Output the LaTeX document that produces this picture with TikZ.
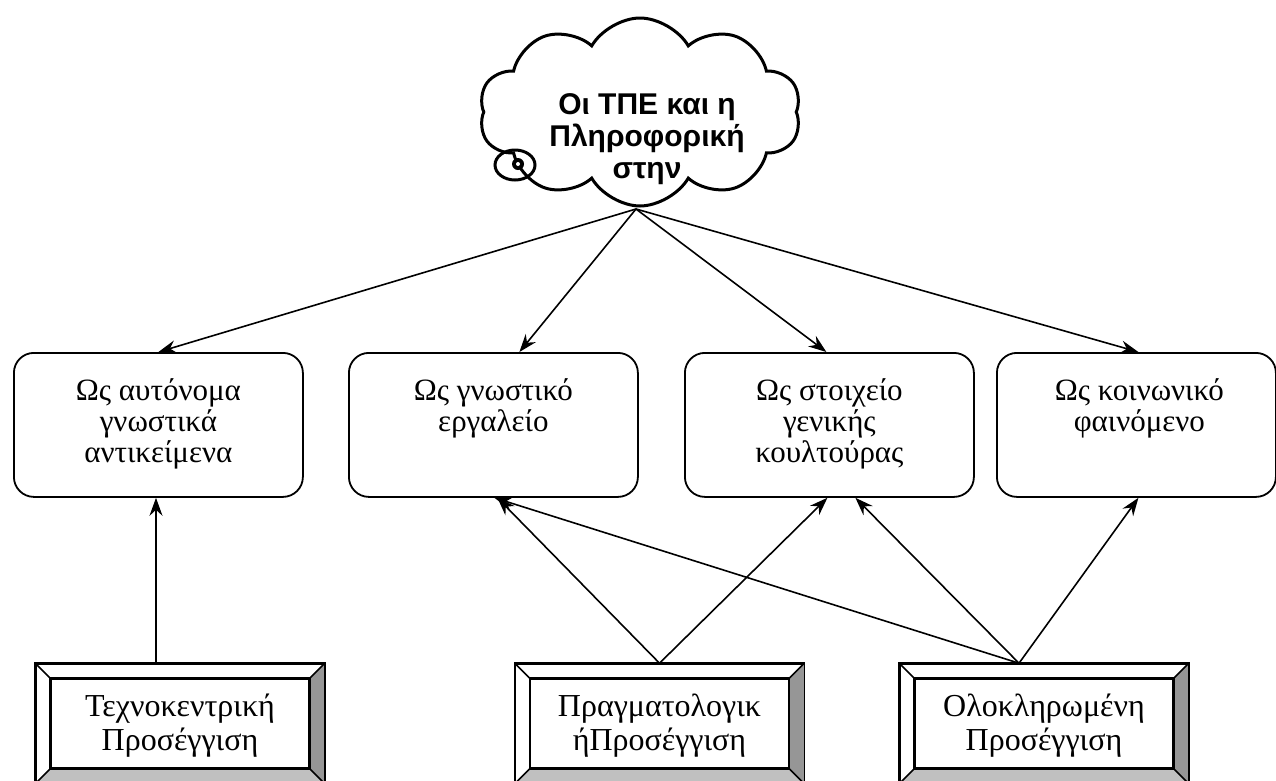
\documentclass[tikz,border=0pt]{standalone}
\usepackage{fontspec}
\setmainfont{Liberation Serif}
\newfontfamily\cloudfont{Liberation Sans}
\usetikzlibrary{shapes.symbols,arrows.meta}
\definecolor{bevelR}{RGB}{150,150,150}
\definecolor{bevelB}{RGB}{192,192,192}
\tikzset{
  rbox/.style={draw,line width=1.8pt,rounded corners=20pt,minimum width=289pt,minimum height=144pt,anchor=north west,inner sep=0pt},
  rtext/.style={align=center,font=\fontsize{31}{31}\selectfont,inner sep=0pt,anchor=north},
  ptext/.style={align=center,font=\fontsize{32}{34}\selectfont,inner sep=0pt,anchor=north},
  bouter/.style={draw,line width=1.6pt,minimum width=288pt,minimum height=119pt,inner sep=0pt},
  binner/.style={draw,line width=1.6pt,minimum width=258pt,minimum height=89pt,inner sep=0pt},
  bline/.style={line width=1.6pt},
  conn/.style={line width=1.6pt,-{Stealth[length=18pt,width=13pt,inset=6pt]}},
  cloudbox/.style={cloud,draw,line width=3pt,cloud puffs=10,cloud puff arc=120,aspect=1.75,minimum width=322pt,minimum height=188pt,inner sep=0pt},
  cloudtext/.style={align=center,font=\cloudfont\bfseries\fontsize{30}{32}\selectfont,inner sep=0pt,anchor=north}
}
\newcommand\bevelbox[3]{%
  \node[bouter] (#1) at (#2,723.5) {};
  \node[binner] (#1i) at (#2,723.5) {};
  \fill[bevelR] (#1.north east) -- (#1.south east) -- (#1i.south east) -- (#1i.north east) -- cycle;
  \fill[bevelB] (#1.south west) -- (#1.south east) -- (#1i.south east) -- (#1i.south west) -- cycle;
  \draw[bline] (#1.north west) rectangle (#1.south east);
  \draw[bline] (#1i.north west) rectangle (#1i.south east);
  \draw[bline] (#1.north west) -- (#1i.north west);
  \draw[bline] (#1.north east) -- (#1i.north east);
  \draw[bline] (#1.south west) -- (#1i.south west);
  \draw[bline] (#1.south east) -- (#1i.south east);
  \node[ptext] (#1t) at (#2,694) {#3};
}
\begin{document}
\begin{tikzpicture}[x=1pt,y=-1pt]
\useasboundingbox (0,0) rectangle (1276,780);
\clip (0,0) rectangle (1276,780);

% cloud
\node[cloudbox] (cl) at (640,112) {};
\draw[line width=3pt] (515,165) ellipse [x radius=20, y radius=15];
\fill (518,164) circle [radius=6];
\fill[white] (518,164) circle [radius=2];
\node[cloudtext] (clt) at (647,93) {Οι ΤΠΕ και η\\Πληροφορική\\στην};
\coordinate (apex) at (636,209);

% rounded boxes
\node[rbox] (b1) at (13,352) {};
\node[rbox] (b2) at (348,352) {};
\node[rbox] (b3) at (684,352) {};
\node[rbox,minimum width=279pt] (b4) at (996,352) {};
\node[rtext] (t1) at (b1.north |- 0,378) {Ως αυτόνομα\\γνωστικά\\αντικείμενα};
\node[rtext] (t2) at (b2.north |- 0,378) {Ως γνωστικό\\εργαλείο};
\node[rtext] (t3) at (b3.north |- 0,378) {Ως στοιχείο\\γενικής\\κουλτούρας};
\node[rtext] (t4) at ([xshift=3pt]b4.north |- 0,378) {Ως κοινωνικό\\φαινόμενο};

% bevelled boxes
\bevelbox{pa}{180}{Τεχνοκεντρική\\Προσέγγιση}
\bevelbox{pb}{659.5}{Πραγματολογικ\\ήΠροσέγγιση}
\bevelbox{pc}{1044}{Ολοκληρωμένη\\Προσέγγιση}

% connectors from the cloud
\draw[conn] (apex) -- (b1.north);
\draw[conn] (apex) -- ([xshift=26pt]b2.north);
\draw[conn] (apex) -- ([xshift=-3pt]b3.north);
\draw[conn] (apex) -- ([xshift=2pt]b4.north);

% connectors from the approaches
\draw[conn] ([xshift=-24pt]pa.north) -- ([xshift=-24pt]pa.north |- b1.south);
\draw[conn] (pb.north) -- ([xshift=4pt]b2.south);
\draw[conn] (pb.north) -- ([xshift=-2pt]b3.south);
\draw[conn] ([xshift=-25pt]pc.north) -- ([xshift=1pt]b2.south);
\draw[conn] ([xshift=-25pt]pc.north) -- ([xshift=26pt]b3.south);
\draw[conn] ([xshift=-25pt]pc.north) -- ([xshift=2pt]b4.south);
\end{tikzpicture}
\end{document}
